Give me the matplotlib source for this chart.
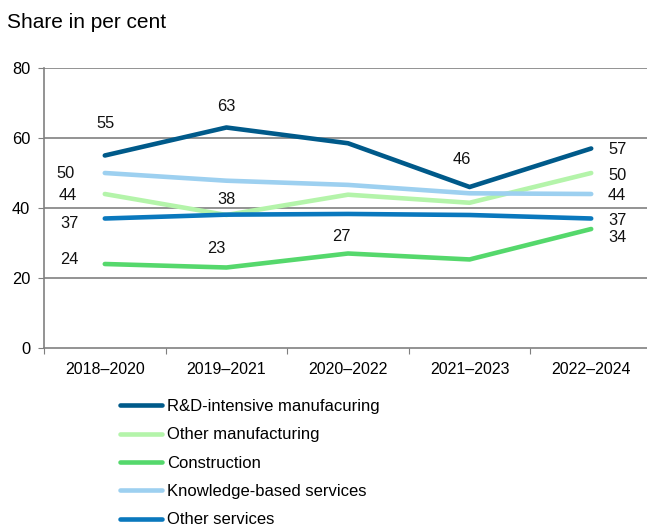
import matplotlib.pyplot as plt

plt.rcParams['font.family'] = ['Liberation Sans', 'DejaVu Sans']

# periods and shares (per cent) per sector
periods = ['2018–2020', '2019–2021', '2020–2022', '2021–2023', '2022–2024']
rd_manufacturing = [55, 63, 58.5, 46, 57]
other_manufacturing = [44, 38, 43.8, 41.5, 50]
construction = [24, 23, 27, 25.3, 34]
knowledge_services = [50, 47.8, 46.6, 44.2, 44]
other_services = [37, 38.1, 38.3, 38, 37]

series = [
    ('R&D-intensive manufacuring', rd_manufacturing, '#005a8a'),
    ('Other manufacturing', other_manufacturing, '#b4f4aa'),
    ('Construction', construction, '#55d86c'),
    ('Knowledge-based services', knowledge_services, '#9dd0f0'),
    ('Other services', other_services, '#0a78bd'),
]

# which points get a value label: (series index, point index, dx, dy in pixels)
value_labels = [
    (0, 0, 1, 32), (3, 0, -39, 0), (1, 0, -37, -1), (4, 0, -35, -5), (2, 0, -35, 4),
    (0, 1, 0, 21), (1, 1, 0, 16), (2, 1, -10, 19),
    (2, 2, -7, 17),
    (0, 3, -8, 27),
    (0, 4, 26, -1), (1, 4, 26, -2), (3, 4, 26, -2), (4, 4, 26, -2), (2, 4, 26, -9),
]

fig = plt.figure(figsize=(6.47, 5.26), dpi=100)
ax = fig.add_axes([44 / 647, 1 - 348 / 526, 608 / 647, 280 / 526])

x = range(len(periods))
lines = []
for name, vals, color in series:
    ln, = ax.plot(x, vals, color=color, lw=3.3, label=name, solid_capstyle='round', zorder=3)
    lines.append(ln)

for si, pi, dx, dy in value_labels:
    v = series[si][1][pi]
    ax.annotate(f'{v:.0f}', (pi, v), xytext=(dx, dy), textcoords='offset pixels',
                ha='center', va='center', fontsize=11.8, color='#111111')

ax.set_xlim(-0.5, 4.5)
ax.set_ylim(0, 80)
ax.set_yticks([0, 20, 40, 60, 80])
ax.set_xticks([i - 0.5 for i in range(len(periods) + 1)], minor=False)
ax.set_xticklabels([])
ax.set_xticks(list(x), minor=True)
ax.set_xticklabels(periods, minor=True)
ax.tick_params(axis='x', which='minor', length=0, pad=10, labelsize=11.5)
ax.tick_params(axis='x', which='major', length=4, color='#7f7f7f')
ax.tick_params(axis='y', length=4, color='#7f7f7f', labelsize=11.8, pad=6)

for y in [20, 40, 60, 80]:
    ax.axhline(y, color='#808080', lw=1.2, zorder=1)
for side in ['top', 'right']:
    ax.spines[side].set_visible(False)
for side in ['left', 'bottom']:
    ax.spines[side].set_color('#808080')
    ax.spines[side].set_linewidth(1.2)

fig.text(7 / 647, 1 - 22 / 526, 'Share in per cent', fontsize=15, va='center', ha='left')

fig.legend(handles=lines, loc='upper left', bbox_to_anchor=(120 / 647, 1 - 399 / 526),
           frameon=False, fontsize=12, handlelength=2.5, handletextpad=0.3,
           labelspacing=0.8, borderaxespad=0, borderpad=0)

fig.savefig('out.png', dpi=100)
